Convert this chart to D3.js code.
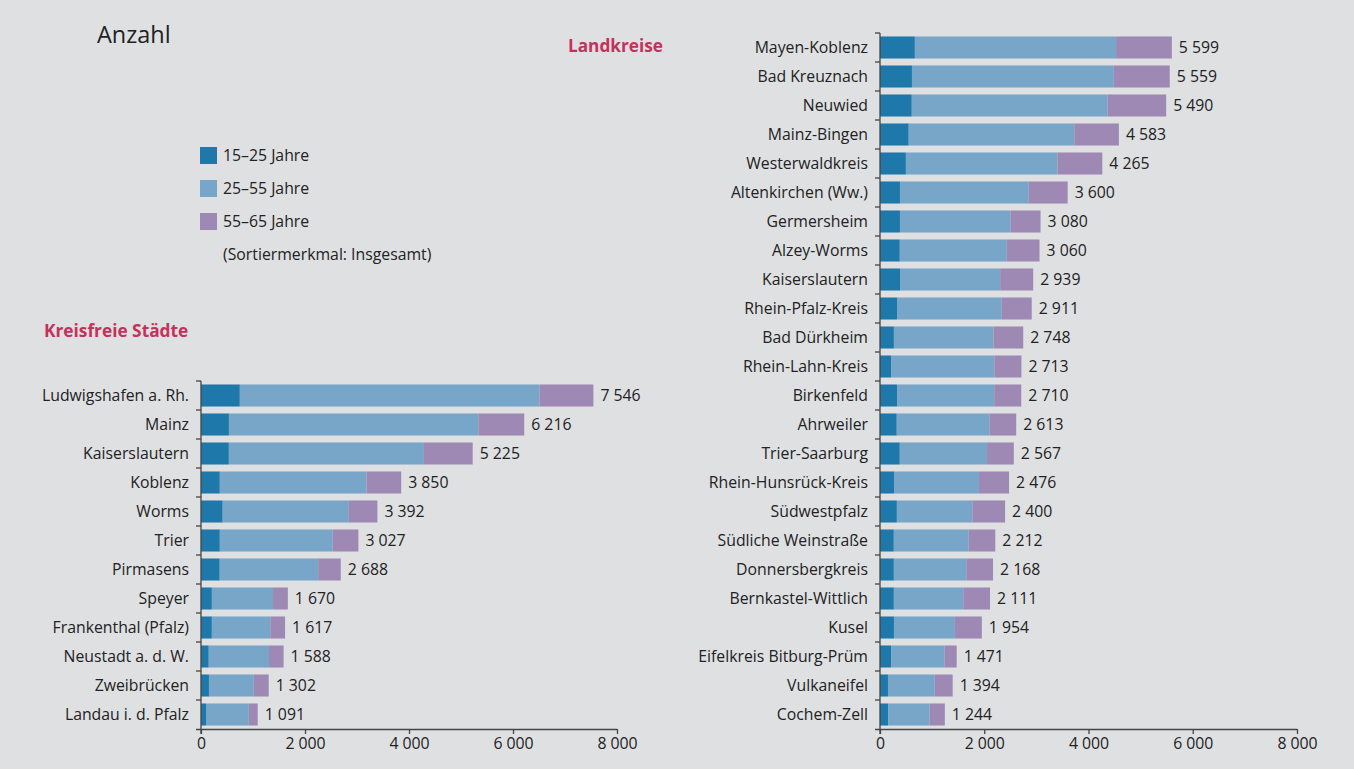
<!DOCTYPE html>
<html><head><meta charset="utf-8">
<script src="https://cdn.jsdelivr.net/npm/d3@7"></script>
<style>
html,body{margin:0;padding:0;background:#dfe0e2;}
svg{display:block;font-family:"Open Sans","Noto Sans",sans-serif;}
</style></head><body>
<script>
// ---- Data ----
const seriesNames = ["15–25 Jahre", "25–55 Jahre", "55–65 Jahre"];
const seriesColors = ["#1f78aa", "#77a6c9", "#9d89b4"];
const xTicks = [0, 2000, 4000, 6000, 8000];

const citiesNames = ["Ludwigshafen a. Rh.", "Mainz", "Kaiserslautern", "Koblenz", "Worms", "Trier", "Pirmasens", "Speyer", "Frankenthal (Pfalz)", "Neustadt a. d. W.", "Zweibrücken", "Landau i. d. Pfalz"];
const citiesTotal = [7546, 6216, 5225, 3850, 3392, 3027, 2688, 1670, 1617, 1588, 1302, 1091];
const cities15_25 = [747, 537, 536, 362, 417, 362, 360, 209, 209, 149, 153, 96];
const cities25_55 = [5765, 4797, 3751, 2821, 2426, 2170, 1893, 1176, 1123, 1159, 862, 823];
const cities55_65 = [1034, 882, 938, 667, 549, 495, 435, 285, 285, 280, 287, 172];

const kreiseNames = ["Mayen-Koblenz", "Bad Kreuznach", "Neuwied", "Mainz-Bingen", "Westerwaldkreis", "Altenkirchen (Ww.)", "Germersheim", "Alzey-Worms", "Kaiserslautern", "Rhein-Pfalz-Kreis", "Bad Dürkheim", "Rhein-Lahn-Kreis", "Birkenfeld", "Ahrweiler", "Trier-Saarburg", "Rhein-Hunsrück-Kreis", "Südwestpfalz", "Südliche Weinstraße", "Donnersbergkreis", "Bernkastel-Wittlich", "Kusel", "Eifelkreis Bitburg-Prüm", "Vulkaneifel", "Cochem-Zell"];
const kreiseTotal = [5599, 5559, 5490, 4583, 4265, 3600, 3080, 3060, 2939, 2911, 2748, 2713, 2710, 2613, 2567, 2476, 2400, 2212, 2168, 2111, 1954, 1471, 1394, 1244];
const kreise15_25 = [669, 613, 610, 551, 497, 383, 383, 380, 384, 326, 267, 212, 327, 322, 380, 269, 324, 265, 266, 266, 268, 213, 153, 156];
const kreise25_55 = [3860, 3873, 3755, 3176, 2907, 2470, 2123, 2053, 1921, 2010, 1909, 1981, 1864, 1780, 1674, 1631, 1447, 1436, 1389, 1331, 1169, 1026, 897, 796];
const kreise55_65 = [1070, 1073, 1125, 856, 861, 747, 574, 627, 634, 575, 572, 520, 519, 511, 513, 576, 629, 511, 513, 514, 517, 232, 344, 292];

// ---- Setup ----
const W = 1354, H = 769;
const svg = d3.select("body").append("svg").attr("width", W).attr("height", H);
svg.append("rect").attr("width", W).attr("height", H).attr("fill", "#dfe0e2");

const loc = d3.formatLocale({decimal: ",", thousands: " ", grouping: [3], currency: ["", " €"]});
const fmt = loc.format(",d");
const textColor = "#222";
const axisColor = "#444";
const FS = 15.8;

function drawChart(names, s1, s2, s3, totals, x0, x1, yTop, yBottom) {
  const g = svg.append("g");
  const x = d3.scaleLinear().domain([0, 8000]).range([x0, x1]);
  const y = d3.scaleBand().domain(names).range([yTop, yBottom]).paddingInner(0.24).paddingOuter(0.12);
  const step = y.step();
  const rows = names.map((n, i) => ({name: n, v: [s1[i], s2[i], s3[i]], total: totals[i]}));
  const stack = d3.stack().keys([0, 1, 2]).value((d, k) => d.v[k]);
  const layers = stack(rows);
  layers.forEach((layer, k) => {
    g.append("g").attr("fill", seriesColors[k]).selectAll("rect").data(layer).join("rect")
      .attr("x", d => x(d[0]))
      .attr("width", d => Math.max(0, x(d[1]) - x(d[0])))
      .attr("y", d => y(d.data.name))
      .attr("height", y.bandwidth());
  });
  // value labels
  g.append("g").selectAll("text").data(rows).join("text")
    .attr("x", d => x(d3.sum(d.v)) + 7)
    .attr("y", d => y(d.name) + y.bandwidth() / 2)
    .attr("dy", "0.35em")
    .attr("font-size", FS).attr("fill", textColor)
    .text(d => fmt(d.total));
  // category labels
  g.append("g").selectAll("text").data(rows).join("text")
    .attr("x", x0 - 12)
    .attr("y", d => y(d.name) + y.bandwidth() / 2)
    .attr("dy", "0.35em")
    .attr("text-anchor", "end")
    .attr("font-size", FS).attr("fill", textColor)
    .text(d => d.name);
  // y axis line + ticks at band boundaries
  const ya = g.append("g").attr("stroke", axisColor).attr("stroke-width", 1.3);
  ya.append("line").attr("x1", x0).attr("x2", x0).attr("y1", yTop).attr("y2", yBottom + 5);
  d3.range(names.length).forEach(i => {
    const yy = yTop + i * step;
    ya.append("line").attr("x1", x0 - 5).attr("x2", x0).attr("y1", yy).attr("y2", yy);
  });
  // x axis
  const xa = g.append("g").attr("transform", `translate(0,${yBottom})`)
    .call(d3.axisBottom(x).tickValues(xTicks).tickSizeInner(5).tickSizeOuter(0).tickPadding(4).tickFormat(fmt));
  xa.select(".domain").attr("stroke", axisColor).attr("stroke-width", 1.3).attr("d", `M${x0 - 5},0.5H${x1}`);
  xa.selectAll(".tick line").attr("stroke", axisColor).attr("stroke-width", 1.3);
  xa.selectAll(".tick text").attr("font-size", FS).attr("fill", textColor)
    .attr("font-family", '"Open Sans","Noto Sans",sans-serif');
}

drawChart(citiesNames, cities15_25, cities25_55, cities55_65, citiesTotal, 201, 617, 381, 729);
drawChart(kreiseNames, kreise15_25, kreise25_55, kreise55_65, kreiseTotal, 880, 1297, 33, 729);

// Titles
svg.append("text").attr("x", 97).attr("y", 43).attr("font-size", 23.5).attr("fill", textColor).text("Anzahl");
svg.append("text").attr("x", 44).attr("y", 337).attr("font-size", 17.3).attr("font-weight", "bold").attr("fill", "#c4325c").text("Kreisfreie Städte");
svg.append("text").attr("x", 568).attr("y", 52).attr("font-size", 17.2).attr("font-weight", "bold").attr("fill", "#c4325c").text("Landkreise");

// Legend
const lg = svg.append("g");
seriesNames.forEach((n, i) => {
  lg.append("rect").attr("x", 200).attr("y", 147 + i * 33).attr("width", 17).attr("height", 17).attr("fill", seriesColors[i]);
  lg.append("text").attr("x", 223).attr("y", 155.5 + i * 33).attr("dy", "0.35em").attr("font-size", FS).attr("fill", textColor).text(n);
});
lg.append("text").attr("x", 223).attr("y", 254).attr("dy", "0.35em").attr("font-size", FS).attr("fill", textColor).text("(Sortiermerkmal: Insgesamt)");
</script>
</body></html>
